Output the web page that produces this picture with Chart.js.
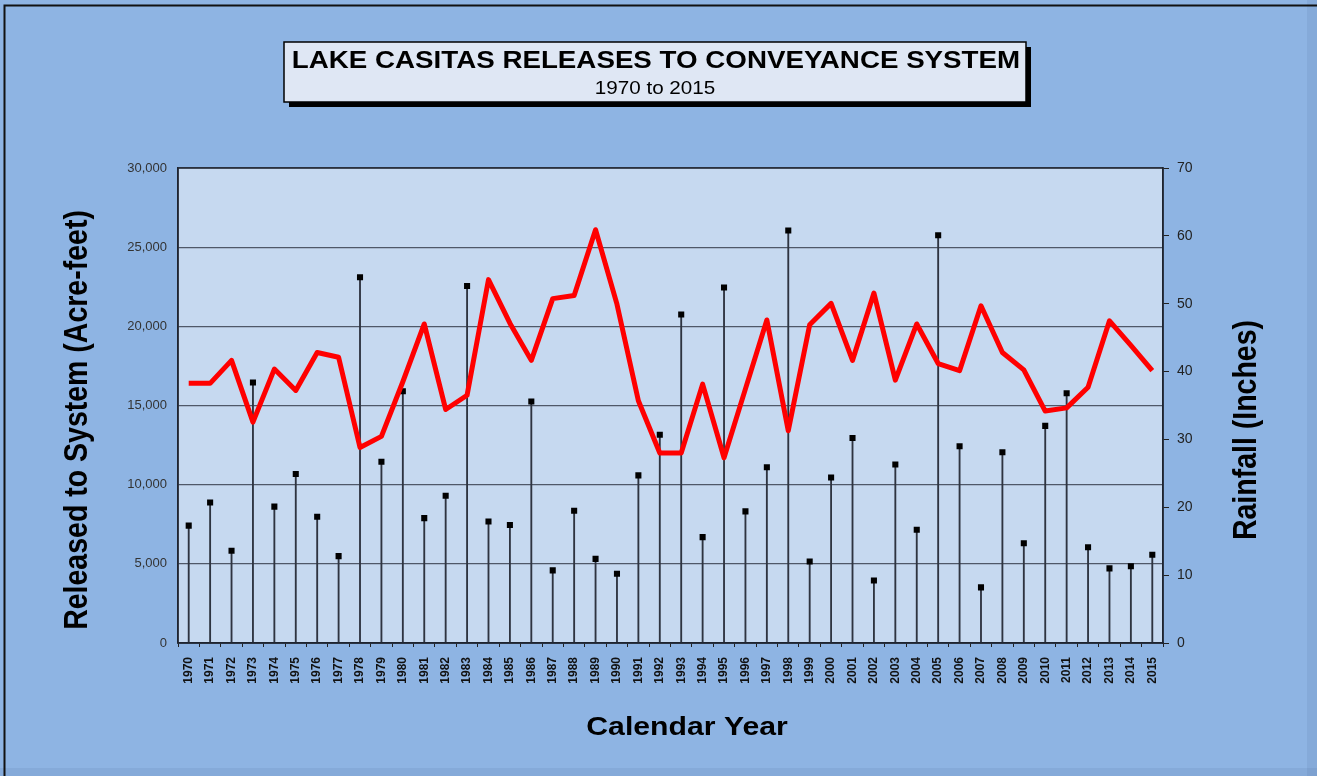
<!DOCTYPE html>
<html>
<head>
<meta charset="utf-8">
<title>Lake Casitas Releases</title>
<script src="https://cdn.jsdelivr.net/npm/chart.js@4.4.1/dist/chart.umd.min.js"></script>
<style>
	body{
		margin:0;
		background-color:#8eb4e3;
	}
	#wrap{
		position:relative;
		width:1317px;
		height:776px;
	}
</style>
</head>
<body>
<div id="wrap"><canvas id="plot"></canvas></div>
<script>
	// values
	years=["1970","1971","1972","1973","1974","1975","1976","1977","1978","1979",
		"1980","1981","1982","1983","1984","1985","1986","1987","1988","1989",
		"1990","1991","1992","1993","1994","1995","1996","1997","1998","1999",
		"2000","2001","2002","2003","2004","2005","2006","2007","2008","2009",
		"2010","2011","2012","2013","2014","2015"];
	// Released to System (acre-feet) - red line, left axis
	released=[16400,16400,17850,13950,17300,15950,18350,18050,12350,13050,
		16500,20150,14750,15650,22950,20200,17850,21750,21950,26100,
		21400,15300,12000,12000,16350,11700,16050,20400,13400,20100,
		21450,17850,22100,16600,20150,17650,17200,21300,18350,17250,
		14650,14850,16150,20350,18800,17200];
	// Rainfall (inches) - stems, right axis
	rainfall=[17.3,20.7,13.6,38.4,20.1,24.9,18.6,12.8,53.9,26.7,
		37.1,18.4,21.7,52.6,17.9,17.4,35.6,10.7,19.5,12.4,
		10.2,24.7,30.7,48.4,15.6,52.4,19.4,25.9,60.8,12.0,
		24.4,30.2,9.2,26.3,16.7,60.1,29.0,8.2,28.1,14.7,
		32.0,36.8,14.1,11.0,11.3,13.0];
	leftTicks=[0,5000,10000,15000,20000,25000,30000];
	rightTicks=[0,10,20,30,40,50,60,70];

	titleText="LAKE CASITAS RELEASES TO CONVEYANCE SYSTEM";
	subTitleText="1970 to 2015";
	leftTitle="Released to System (Acre-feet)";
	rightTitle="Rainfall (Inches)";
	bottomTitle="Calendar Year";

	FONT='"Liberation Sans", Arial, sans-serif';
	stretch=1.18; // picture is wider than tall, text looks stretched

	function stretchedText(ctx,text,x,y,font,rot){
		ctx.save();
		ctx.translate(x,y);
		ctx.scale(stretch,1);
		if (rot){ctx.rotate(rot);}
		ctx.font=font;
		ctx.textAlign="center";
		ctx.textBaseline="middle";
		ctx.fillStyle="#000";
		ctx.fillText(text,0,0);
		ctx.restore();
	}

	const framePlugin={
		id:"frame",
		beforeDraw:function(chart){
			var ctx=chart.ctx;
			var a=chart.chartArea;
			ctx.save();
			ctx.fillStyle="#8eb4e3";
			ctx.fillRect(0,0,chart.width,chart.height);
			// slight darker edge right/bottom
			ctx.fillStyle="rgba(60,90,140,0.10)";
			ctx.fillRect(chart.width-10,0,10,chart.height);
			ctx.fillRect(0,chart.height-8,chart.width,8);
			// outer frame
			ctx.strokeStyle="#111";
			ctx.lineWidth=2;
			ctx.beginPath();
			ctx.moveTo(4.5,chart.height);
			ctx.lineTo(4.5,5.5);
			ctx.lineTo(chart.width,5.5);
			ctx.stroke();
			// plot area
			ctx.fillStyle="#c6d9f0";
			ctx.fillRect(a.left,a.top,a.right-a.left,a.bottom-a.top);
			ctx.restore();
		},
		afterDraw:function(chart){
			var ctx=chart.ctx;
			var a=chart.chartArea;
			ctx.save();
			ctx.strokeStyle="#1f2530";
			ctx.lineWidth=1.5;
			ctx.strokeRect(a.left,a.top,a.right-a.left,a.bottom-a.top);
			// title box with shadow
			ctx.fillStyle="#000";
			ctx.fillRect(289,47,742,60);
			ctx.fillStyle="#dfe7f4";
			ctx.fillRect(284,42,742,60);
			ctx.strokeStyle="#000";
			ctx.lineWidth=1.5;
			ctx.strokeRect(284,42,742,60);
			ctx.restore();
			stretchedText(ctx,titleText,656,62,"bold 23.5px "+FONT,0);
			stretchedText(ctx,subTitleText,655,89,"17.5px "+FONT,0);
			stretchedText(ctx,leftTitle,78,420,"bold 28.5px "+FONT,-Math.PI/2);
			stretchedText(ctx,rightTitle,1247,430,"bold 28.5px "+FONT,-Math.PI/2);
			stretchedText(ctx,bottomTitle,687,728,"bold 25.6px "+FONT,0);
		}
	};

	const data={
		labels:years,
		datasets:[{
			type:"line",
			label:"Released to System",
			data:released,
			yAxisID:"y",
			borderColor:"#ff0000",
			borderWidth:5,
			borderJoinStyle:"round",
			pointRadius:0,
			tension:0,
			order:0
		},{
			type:"line",
			label:"Rainfall",
			data:rainfall,
			yAxisID:"y1",
			showLine:false,
			pointStyle:"rect",
			pointRadius:4.3,
			pointBackgroundColor:"#000",
			pointBorderWidth:0,
			order:1
		},{
			type:"bar",
			label:"Rainfall stem",
			data:rainfall,
			yAxisID:"y1",
			backgroundColor:"#2e3440",
			barThickness:1.2,
			order:2
		}]
	};

	const config={
		data:data,
		options:{
			responsive:true,
			maintainAspectRatio:false,
			animation:false,
			layout:{padding:{top:168,left:0,right:0,bottom:0}},
			scales:{
				x:{
					afterFit:function(scale){scale.height=133;},
					grid:{display:true,drawOnChartArea:false,offset:true,tickLength:4,color:"#222"},
					border:{display:true,color:"#1f2530",width:1.5},
					ticks:{
						autoSkip:false,
						maxRotation:90,
						minRotation:90,
						padding:10,
						color:"#111",
						font:{family:FONT,size:12,weight:"bold"}
					}
				},
				y:{
					position:"left",
					min:0,
					max:30000,
					afterFit:function(scale){scale.width=178;},
					afterBuildTicks:function(scale){scale.ticks=leftTicks.map(v=>({value:v}));},
					grid:{color:"#4f5868",lineWidth:1.3,drawTicks:false},
					border:{display:true,color:"#1f2530",width:1.5},
					ticks:{
						padding:11,
						color:"#333",
						font:{family:FONT,size:13},
						callback:function(v){return v.toLocaleString("en-US");}
					}
				},
				y1:{
					position:"right",
					min:0,
					max:70,
					afterFit:function(scale){scale.width=154;},
					afterBuildTicks:function(scale){scale.ticks=rightTicks.map(v=>({value:v}));},
					grid:{drawOnChartArea:false,tickLength:6,color:"#222"},
					border:{display:true,color:"#1f2530",width:1.5},
					ticks:{
						padding:8,
						color:"#222",
						font:{family:FONT,size:14}
					}
				}
			},
			plugins:{
				legend:{display:false},
				tooltip:{enabled:false}
			}
		},
		plugins:[framePlugin]
	};
	plot=document.getElementById("plot");
	const myChart=new Chart(plot,config);
</script>
</body>
</html>
